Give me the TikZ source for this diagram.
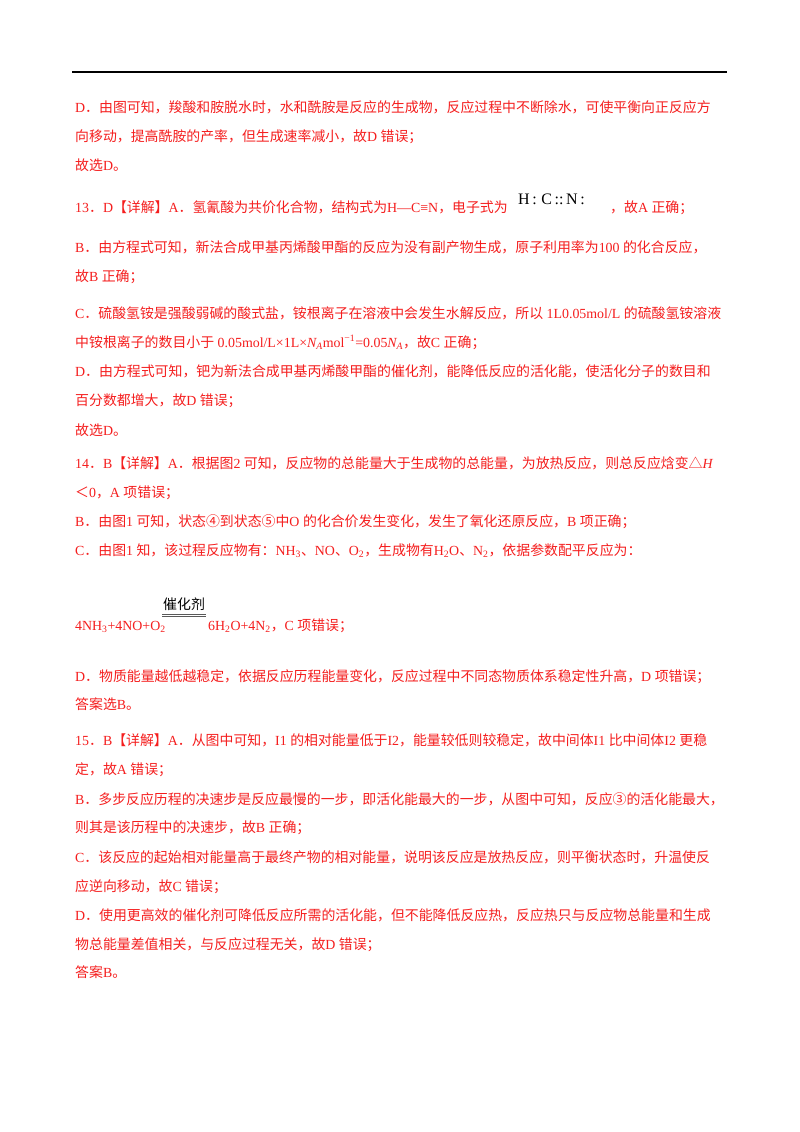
\documentclass[tikz,border=0pt]{standalone}
\usepackage{fontspec}
\setmainfont{Liberation Serif}
\newfontfamily\cjk{Noto Sans CJK SC}
\XeTeXinterchartokenstate=1
\newXeTeXintercharclass\cjkclass
\newcount\cc
\def\setrange#1#2{\cc=#1\relax\loop\XeTeXcharclass\cc=\cjkclass\advance\cc by 1\relax\ifnum\cc<#2\repeat}
\setrange{"4E00}{"A000}
\setrange{"3000}{"3040}
\setrange{"FF01}{"FF5F}
\setrange{"2460}{"2500}
\XeTeXcharclass"25B3=\cjkclass
\XeTeXinterchartoks 0 \cjkclass={\cjk}
\XeTeXinterchartoks 4095 \cjkclass={\cjk}
\XeTeXinterchartoks \cjkclass 0={\rmfamily}
\XeTeXinterchartoks \cjkclass 4095={\rmfamily}
\definecolor{ans}{RGB}{245,30,30}
\tikzset{ln/.style={anchor=base west,inner sep=0pt,text=ans,font=\fontsize{13.9}{16}\selectfont}}
\newcommand\sub[1]{\textsubscript{#1}}
\begin{document}
\begin{tikzpicture}[x=1pt,y=-1pt]
\useasboundingbox[fill=white](0,0) rectangle (800,1132);
\draw[line width=1.2pt] (72,72) -- (727,72);
\node[ln] (l1) at (75,112) {D．由图可知，羧酸和胺脱水时，水和酰胺是反应的生成物，反应过程中不断除水，可使平衡向正反应方};
\node[ln] (l2) at (75,141) {向移动，提高酰胺的产率，但生成速率减小，故D 错误；};
\node[ln] (l3) at (75,170) {故选D。};
\node[ln] (l4) at (75,212) {13．D【详解】A．氢氰酸为共价化合物，结构式为H—C≡N，电子式为};
\node[anchor=base west,inner sep=0pt,font=\fontsize{16}{18}\selectfont] (ef) at (518,204) {H\,:\;C\,::\,N\,:};
\node[ln] (l4b) at (610,212) {，故A 正确；};
\node[ln] (l5) at (75,252) {B．由方程式可知，新法合成甲基丙烯酸甲酯的反应为没有副产物生成，原子利用率为100 的化合反应，};
\node[ln] (l6) at (75,281) {故B 正确；};
\node[ln] (l7) at (75,318) {C．硫酸氢铵是强酸弱碱的酸式盐，铵根离子在溶液中会发生水解反应，所以 1L0.05mol/L 的硫酸氢铵溶液};
\node[ln] (l8) at (75,347) {中铵根离子的数目小于 0.05mol/L×1L×\textit{N\sub{A}}mol\textsuperscript{−1}=0.05\textit{N\sub{A}}，故C 正确；};
\node[ln] (l9) at (75,376) {D．由方程式可知，钯为新法合成甲基丙烯酸甲酯的催化剂，能降低反应的活化能，使活化分子的数目和};
\node[ln] (l10) at (75,405) {百分数都增大，故D 错误；};
\node[ln] (l11) at (75,435) {故选D。};
\node[ln] (l12) at (75,468) {14．B【详解】A．根据图2 可知，反应物的总能量大于生成物的总能量，为放热反应，则总反应焓变△\textit{H}};
\node[ln] (l13) at (75,497) {＜0，A 项错误；};
\node[ln] (l14) at (75,526) {B．由图1 可知，状态④到状态⑤中O 的化合价发生变化，发生了氧化还原反应，B 项正确；};
\node[ln] (l15) at (75,555) {C．由图1 知，该过程反应物有：NH\sub{3}、NO、O\sub{2}，生成物有H\sub{2}O、N\sub{2}，依据参数配平反应为：};
\node[anchor=base west,inner sep=0pt,font=\fontsize{13.9}{16}\selectfont] (cat) at (163,609) {催化剂};
\draw[gray!70!black,line width=0.6pt] (162,614) -- (206,614) (162,616.5) -- (206,616.5);
\node[ln] (l16) at (75,630) {4NH\sub{3}+4NO+O\sub{2}};
\node[ln] (l16b) at (208,630) {6H\sub{2}O+4N\sub{2}，C 项错误；};
\node[ln] (l17) at (75,681) {D．物质能量越低越稳定，依据反应历程能量变化，反应过程中不同态物质体系稳定性升高，D 项错误；};
\node[ln] (l18) at (75,709) {答案选B。};
\node[ln] (l19) at (75,745) {15．B【详解】A．从图中可知，I1 的相对能量低于I2，能量较低则较稳定，故中间体I1 比中间体I2 更稳};
\node[ln] (l20) at (75,774) {定，故A 错误；};
\node[ln] (l21) at (75,804) {B．多步反应历程的决速步是反应最慢的一步，即活化能最大的一步，从图中可知，反应③的活化能最大，};
\node[ln] (l22) at (75,832) {则其是该历程中的决速步，故B 正确；};
\node[ln] (l23) at (75,862) {C．该反应的起始相对能量高于最终产物的相对能量，说明该反应是放热反应，则平衡状态时，升温使反};
\node[ln] (l24) at (75,891) {应逆向移动，故C 错误；};
\node[ln] (l25) at (75,920) {D．使用更高效的催化剂可降低反应所需的活化能，但不能降低反应热，反应热只与反应物总能量和生成};
\node[ln] (l26) at (75,949) {物总能量差值相关，与反应过程无关，故D 错误；};
\node[ln] (l27) at (75,977) {答案B。};
\end{tikzpicture}
\end{document}
